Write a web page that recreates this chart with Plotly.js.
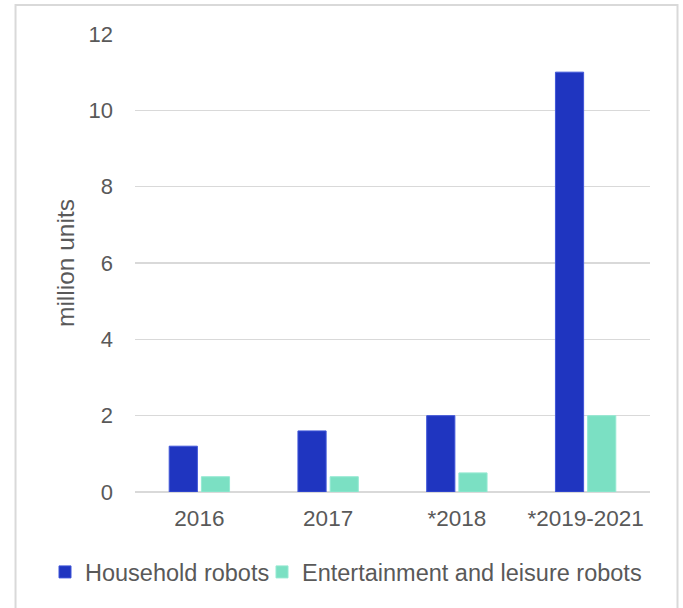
<!DOCTYPE html>
<html>
<head>
<meta charset="utf-8">
<script src="https://cdn.plot.ly/plotly-3.0.1.min.js"></script>
<style>
  html, body { margin: 0; padding: 0; background: #ffffff; }
  #chart { width: 683px; height: 608px; }
</style>
</head>
<body>
<div id="chart"></div>
<script>
const categories = ["2016", "2017", "*2018", "*2019-2021"];
const householdRobots = [1.2, 1.6, 2.0, 11.0];
const entertainmentRobots = [0.4, 0.4, 0.5, 2.0];
const seriesNames = ["Household robots", "Entertainment and leisure robots"];
const yTicks = [0, 2, 4, 6, 8, 10, 12];
const yTitle = "million units";

const fontFamily = "Liberation Sans, Arial, sans-serif";
const textColor = "#595959";

const traces = [
  {
    type: "bar",
    name: seriesNames[0],
    x: categories,
    y: householdRobots,
    legend: "legend",
    marker: { color: "#1F35C0", line: { color: "#3F55D8", width: 1 } },
    hoverinfo: "x+y+name"
  },
  {
    type: "bar",
    name: seriesNames[1],
    x: categories,
    y: entertainmentRobots,
    legend: "legend2",
    marker: { color: "#7BE0C3", line: { color: "#95E9D2", width: 1 } },
    hoverinfo: "x+y+name"
  }
];

function legendStyle(xPos) {
  return {
    orientation: "h",
    xref: "container", yref: "container",
    x: xPos, xanchor: "left",
    y: 0.059, yanchor: "middle",
    font: { family: fontFamily, color: textColor, size: 23.5 },
    itemwidth: 30,
    tracegroupgap: 0,
    borderwidth: 0,
    bgcolor: "rgba(0,0,0,0)"
  };
}

const layout = {
  width: 683,
  height: 608,
  margin: { l: 135, r: 33, t: 34, b: 116, autoexpand: false },
  paper_bgcolor: "#ffffff",
  plot_bgcolor: "#ffffff",
  font: { family: fontFamily, color: textColor, size: 22 },
  barmode: "group",
  bargap: 0.5,
  bargroupgap: 0.125,
  showlegend: true,
  legend: legendStyle(45 / 683),
  legend2: legendStyle(262 / 683),
  xaxis: {
    type: "category",
    showgrid: false,
    showline: false,
    zeroline: false,
    ticks: "",
    tickfont: { family: fontFamily, color: textColor, size: 22.5 },
    ticklabelstandoff: 10,
    fixedrange: true
  },
  yaxis: {
    range: [0, 12],
    tickvals: yTicks,
    ticktext: yTicks.map(String),
    showgrid: true,
    gridcolor: "#D9D9D9",
    gridwidth: 1.5,
    zeroline: true,
    zerolinecolor: "#D9D9D9",
    zerolinewidth: 2,
    showline: false,
    ticks: "",
    ticklabelstandoff: 21,
    tickfont: { family: fontFamily, color: textColor, size: 22 },
    title: { text: yTitle, font: { family: fontFamily, color: textColor, size: 24.5 }, standoff: 6 },
    fixedrange: true
  },
  shapes: [
    {
      type: "rect",
      xref: "paper", yref: "paper",
      x0: -0.232, x1: 1.0534,
      y0: -0.3, y1: 1.0633,
      line: { color: "#D9D9D9", width: 2 },
      fillcolor: "rgba(0,0,0,0)",
      layer: "below"
    }
  ]
};

Plotly.newPlot("chart", traces, layout, { displayModeBar: false, staticPlot: true });
</script>
</body>
</html>
